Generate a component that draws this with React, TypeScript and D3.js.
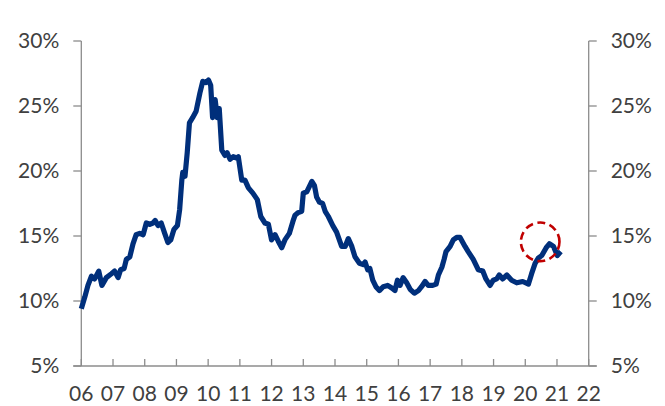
import React from "react";
import * as d3 from "d3";

// Monthly-ish readings of the ratio (decimal year, percent)
const dates: number[] = [
  2006.0, 2006.11, 2006.21, 2006.32, 2006.42, 2006.55, 2006.65, 2006.79, 2006.95,
  2007.05, 2007.16, 2007.24, 2007.35, 2007.42, 2007.53, 2007.63, 2007.73, 2007.84, 2007.95,
  2008.05, 2008.16, 2008.26, 2008.33, 2008.42, 2008.52, 2008.63, 2008.73, 2008.82, 2008.92,
  2009.03, 2009.1, 2009.17, 2009.2, 2009.27, 2009.34, 2009.41, 2009.51, 2009.62, 2009.74, 2009.83, 2009.93,
  2010.01, 2010.08, 2010.14, 2010.22, 2010.29, 2010.35, 2010.43, 2010.53, 2010.6, 2010.69, 2010.79, 2010.9, 2010.95,
  2011.06, 2011.16, 2011.27, 2011.41, 2011.55, 2011.66, 2011.79, 2011.9,
  2012.0, 2012.11, 2012.21, 2012.32, 2012.42, 2012.56, 2012.67, 2012.74, 2012.84, 2012.95,
  2013.0, 2013.11, 2013.19, 2013.27, 2013.35, 2013.42, 2013.51, 2013.61, 2013.69, 2013.79, 2013.93,
  2014.05, 2014.21, 2014.32, 2014.42, 2014.53, 2014.63, 2014.77, 2014.89, 2014.95,
  2015.03, 2015.1, 2015.19, 2015.29, 2015.4, 2015.52, 2015.66, 2015.79, 2015.89, 2015.97,
  2016.05, 2016.15, 2016.26, 2016.37, 2016.5, 2016.63, 2016.73, 2016.84, 2016.94,
  2017.08, 2017.19, 2017.26, 2017.37, 2017.44, 2017.5, 2017.63, 2017.73, 2017.84, 2017.94,
  2018.1, 2018.2, 2018.36, 2018.52, 2018.66, 2018.76, 2018.89, 2018.99,
  2019.1, 2019.18, 2019.29, 2019.42, 2019.57, 2019.73, 2019.92,
  2020.1, 2020.2, 2020.31, 2020.41, 2020.52, 2020.66, 2020.76, 2020.89,
  2021.01, 2021.12,
];

const values: number[] = [
  9.4, 10.3, 11.2, 11.9, 11.7, 12.3, 11.2, 11.8, 12.1,
  12.3, 11.8, 12.4, 12.5, 13.2, 13.4, 14.4, 15.1, 15.2, 15.1,
  16.0, 15.9, 16.0, 16.2, 15.8, 16.0, 15.2, 14.5, 14.7, 15.5,
  15.8, 17.0, 19.3, 19.9, 19.6, 21.4, 23.7, 24.1, 24.6, 26.0, 26.9, 26.8,
  27.0, 26.6, 24.1, 25.5, 24.1, 24.8, 21.6, 21.2, 21.4, 20.9, 21.1, 21.0, 21.1,
  19.3, 19.3, 18.7, 18.3, 17.8, 16.5, 16.0, 15.9,
  14.7, 15.1, 14.6, 14.1, 14.7, 15.2, 16.1, 16.6, 16.8, 16.9,
  18.3, 18.4, 18.8, 19.2, 18.9, 18.0, 17.6, 17.5, 16.9, 16.5, 15.8,
  15.3, 14.2, 14.2, 14.8, 14.2, 13.4, 12.9, 12.8, 13.0,
  12.4, 12.5, 11.6, 11.1, 10.8, 11.1, 11.2, 11.0, 10.8, 11.6,
  11.2, 11.8, 11.4, 10.9, 10.6, 10.8, 11.1, 11.5, 11.2,
  11.2, 11.3, 12.0, 12.6, 13.2, 13.8, 14.2, 14.7, 14.9, 14.9,
  14.2, 13.8, 13.2, 12.4, 12.3, 11.7, 11.2, 11.6,
  11.7, 12.0, 11.7, 12.0, 11.6, 11.4, 11.5,
  11.3, 12.1, 12.9, 13.3, 13.5, 14.1, 14.4, 14.2,
  13.5, 13.8,
];

const yTicks: number[] = [5, 10, 15, 20, 25, 30];
const xTicks: number[] = d3.range(2006, 2023);
const xTickLabels: string[] = xTicks.map((y) => String(y % 100).padStart(2, "0"));

// Highlighted recent reading
const highlightDate = 2020.47;
const highlightValue = 14.55;

const W = 665;
const H = 406;
const LEFT = 81.3;
const RIGHT = 588.7;
const TOP = 41;
const BOTTOM = 366;
const TICK = 8;

const AXIS = "#8c8c8c";
const TEXT = "#404040";
const LINE = "#002f7b";
const FONT = "Lato, 'Open Sans', sans-serif";
const FS = 21;

export default function App() {
  const x = d3.scaleLinear().domain([2006, 2022]).range([LEFT, RIGHT]);
  const y = d3.scaleLinear().domain([5, 30]).range([BOTTOM, TOP]);

  const pts: [number, number][] = dates.map((d, i) => [d, values[i]]);
  const path = d3
    .line<[number, number]>()
    .x((d) => x(d[0]))
    .y((d) => y(d[1]))(pts);

  return (
    <svg
      width={W}
      height={H}
      style={{ position: "absolute", left: 0, top: 0, background: "#fff" }}
      fontFamily={FONT}
    >
      {/* left axis */}
      <line x1={LEFT} x2={LEFT} y1={TOP} y2={BOTTOM} stroke={AXIS} strokeWidth={1.3} />
      {yTicks.map((t) => (
        <g key={"l" + t}>
          <line x1={LEFT - TICK} x2={LEFT} y1={y(t)} y2={y(t)} stroke={AXIS} strokeWidth={1.3} />
          <text x={LEFT - 22} y={y(t)} dy="0.35em" textAnchor="end" fontSize={FS} fill={TEXT}>
            {t}%
          </text>
        </g>
      ))}

      {/* right axis */}
      <line x1={RIGHT} x2={RIGHT} y1={TOP} y2={BOTTOM} stroke={AXIS} strokeWidth={1.3} />
      {yTicks.map((t) => (
        <g key={"r" + t}>
          <line x1={RIGHT} x2={RIGHT + TICK} y1={y(t)} y2={y(t)} stroke={AXIS} strokeWidth={1.3} />
          <text x={RIGHT + 22} y={y(t)} dy="0.35em" textAnchor="start" fontSize={FS} fill={TEXT}>
            {t}%
          </text>
        </g>
      ))}

      {/* bottom axis */}
      <line x1={LEFT - TICK} x2={RIGHT + TICK} y1={BOTTOM} y2={BOTTOM} stroke={AXIS} strokeWidth={1.3} />
      {xTicks.map((t, i) => (
        <g key={"x" + t}>
          <line x1={x(t)} x2={x(t)} y1={BOTTOM - 7} y2={BOTTOM} stroke={AXIS} strokeWidth={1.3} />
          <text x={x(t)} y={401} textAnchor="middle" fontSize={FS} fill={TEXT}>
            {xTickLabels[i]}
          </text>
        </g>
      ))}

      <path
        d={path ?? ""}
        fill="none"
        stroke={LINE}
        strokeWidth={5.2}
        strokeLinejoin="round"
        strokeLinecap="butt"
      />

      <circle
        cx={x(highlightDate)}
        cy={y(highlightValue)}
        r={19.3}
        fill="none"
        stroke="#c00000"
        strokeWidth={2.6}
        strokeDasharray="8 4.5"
      />
    </svg>
  );
}
